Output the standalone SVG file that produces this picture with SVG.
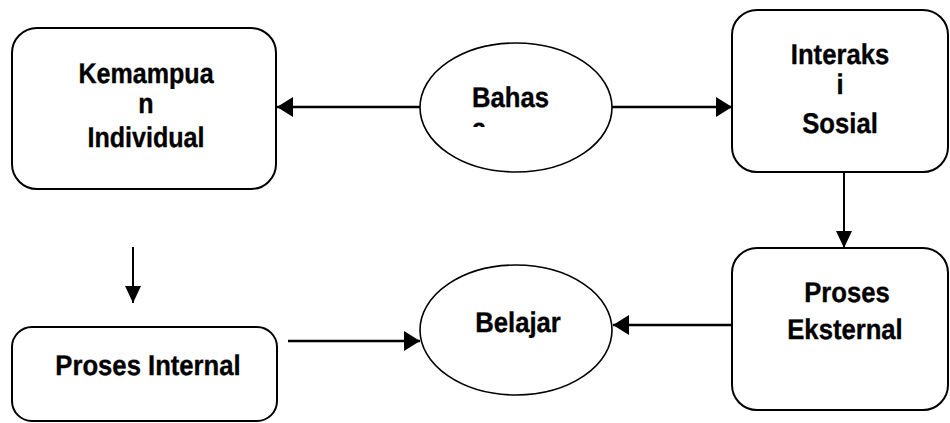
<svg xmlns="http://www.w3.org/2000/svg" width="950" height="423" viewBox="0 0 950 423">
<style>
.box{fill:#fff;stroke:#000;stroke-width:2}
.ell{fill:#fff;stroke:#000;stroke-width:1.6}
.lbl{font-family:"Liberation Sans",Arial,sans-serif;font-weight:bold;font-size:28.5px;fill:#000;stroke:#000;stroke-width:0.35;text-anchor:middle;text-rendering:geometricPrecision}
.st{text-anchor:start}
.con{stroke:#000;stroke-width:2.6;fill:none}
.conv{stroke:#000;stroke-width:2;fill:none}
</style>
<defs>
<marker id="ah" markerUnits="userSpaceOnUse" markerWidth="18" markerHeight="20" refX="16" refY="10" orient="auto">
<path d="M0,0 L16,10 L0,20 Z" fill="#000"/>
</marker>
<marker id="av" markerUnits="userSpaceOnUse" markerWidth="20" markerHeight="18" refX="17" refY="8" orient="auto">
<path d="M0,0 L17,8 L0,16 Z" fill="#000"/>
</marker>
<clipPath id="clipB"><rect x="420" y="43" width="192" height="84"/></clipPath>
</defs>
<rect width="950" height="423" fill="#fff"/>
<g id="connectors">
<line class="con" x1="420" y1="107" x2="277" y2="107" marker-end="url(#ah)"/>
<line class="con" x1="612" y1="107" x2="732" y2="107" marker-end="url(#ah)"/>
<line class="conv" x1="844" y1="172" x2="844" y2="248" marker-end="url(#av)"/>
<line class="con" x1="732" y1="325" x2="613" y2="325" marker-end="url(#ah)"/>
<line class="con" x1="288" y1="341" x2="420" y2="341" marker-end="url(#ah)"/>
<line class="conv" x1="133" y1="247" x2="133" y2="303" marker-end="url(#av)"/>
</g>
<g id="kemampuan">
<rect class="box" x="12" y="28" width="264" height="161" rx="25"/>
<text class="lbl" transform="translate(146 83) scale(0.88 1)">Kemampua</text>
<text class="lbl" transform="translate(146 113) scale(0.88 1)">n</text>
<text class="lbl" transform="translate(146 147) scale(0.88 1)">Individual</text>
</g>
<g id="bahasa">
<ellipse class="ell" cx="516" cy="107.5" rx="96" ry="64.5"/>
<g clip-path="url(#clipB)">
<text class="lbl st" transform="translate(472 107) scale(0.9 1)">Bahas</text>
<text class="lbl st" transform="translate(472 138) scale(0.9 1)">a</text>
</g>
</g>
<g id="interaksi">
<rect class="box" x="732" y="10" width="216" height="162" rx="25"/>
<text class="lbl" transform="translate(840 64) scale(0.9 1)">Interaks</text>
<text class="lbl" transform="translate(840 94) scale(0.9 1)">i</text>
<text class="lbl" transform="translate(840 133) scale(0.9 1)">Sosial</text>
</g>
<g id="eksternal">
<rect class="box" x="732" y="248" width="216" height="162" rx="25"/>
<text class="lbl" transform="translate(847 302) scale(0.9 1)">Proses</text>
<text class="lbl" transform="translate(845 339) scale(0.9 1)">Eksternal</text>
</g>
<g id="belajar">
<ellipse class="ell" cx="516" cy="330" rx="96" ry="65"/>
<text class="lbl" transform="translate(518 332) scale(0.9 1)">Belajar</text>
</g>
<g id="internal">
<rect class="box" x="12" y="327" width="265" height="94" rx="20"/>
<text class="lbl" transform="translate(148 375) scale(0.9 1)">Proses Internal</text>
</g>
</svg>
